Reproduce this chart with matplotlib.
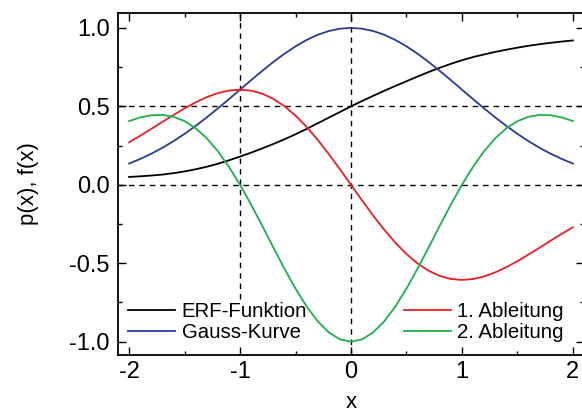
import matplotlib
matplotlib.use("Agg")
import matplotlib.pyplot as plt
from matplotlib.ticker import MultipleLocator

plt.rcParams['font.family'] = ['Liberation Sans', 'DejaVu Sans']

x = [-2.0, -1.9, -1.8, -1.7, -1.6, -1.5, -1.4, -1.3, -1.2, -1.1, -1.0,
     -0.9, -0.8, -0.7, -0.6, -0.5, -0.4, -0.3, -0.2, -0.1, 0.0,
     0.1, 0.2, 0.3, 0.4, 0.5, 0.6, 0.7, 0.8, 0.9, 1.0,
     1.1, 1.2, 1.3, 1.4, 1.5, 1.6, 1.7, 1.8, 1.9, 2.0]

erf_funktion = [0.050, 0.054, 0.059, 0.065, 0.074, 0.085, 0.099, 0.115, 0.134, 0.156, 0.180,
                0.205, 0.232, 0.260, 0.290, 0.322, 0.356, 0.392, 0.428, 0.464, 0.500,
                0.534, 0.567, 0.599, 0.630, 0.660, 0.690, 0.719, 0.746, 0.771, 0.794,
                0.814, 0.831, 0.847, 0.861, 0.874, 0.886, 0.896, 0.905, 0.913, 0.920]

gauss_kurve = [0.1353, 0.1645, 0.1979, 0.2357, 0.2780, 0.3247, 0.3753, 0.4296, 0.4868, 0.5461, 0.6065,
               0.6670, 0.7261, 0.7827, 0.8353, 0.8825, 0.9231, 0.9560, 0.9802, 0.9950, 1.0000,
               0.9950, 0.9802, 0.9560, 0.9231, 0.8825, 0.8353, 0.7827, 0.7261, 0.6670, 0.6065,
               0.5461, 0.4868, 0.4296, 0.3753, 0.3247, 0.2780, 0.2357, 0.1979, 0.1645, 0.1353]

ableitung1 = [0.2707, 0.3126, 0.3562, 0.4007, 0.4448, 0.4870, 0.5254, 0.5585, 0.5842, 0.6007, 0.6065,
              0.6003, 0.5809, 0.5479, 0.5012, 0.4412, 0.3692, 0.2868, 0.1960, 0.0995, 0.0,
              -0.0995, -0.1960, -0.2868, -0.3692, -0.4412, -0.5012, -0.5479, -0.5809, -0.6003, -0.6065,
              -0.6007, -0.5842, -0.5585, -0.5254, -0.4870, -0.4448, -0.4007, -0.3562, -0.3126, -0.2707]

ableitung2 = [0.4060, 0.4293, 0.4433, 0.4455, 0.4337, 0.4059, 0.3603, 0.2964, 0.2142, 0.1147, 0.0,
              -0.1267, -0.2614, -0.3992, -0.5346, -0.6619, -0.7754, -0.8700, -0.9410, -0.9851, -1.0,
              -0.9851, -0.9410, -0.8700, -0.7754, -0.6619, -0.5346, -0.3992, -0.2614, -0.1267, 0.0,
              0.1147, 0.2142, 0.2964, 0.3603, 0.4059, 0.4337, 0.4455, 0.4433, 0.4293, 0.4060]

labels = ["ERF-Funktion", "Gauss-Kurve", "1. Ableitung", "2. Ableitung"]
colors = ["#000000", "#2B3A98", "#EE1D25", "#1EB14B"]

xlim = (-2.1, 2.1)
ylim = (-1.085, 1.095)

fig = plt.figure(figsize=(5.82, 4.15), dpi=100)
ax = fig.add_axes([118/582, 1 - 355/415, (584 - 118)/582, (355 - 13)/415])
ax.set_xlim(*xlim)
ax.set_ylim(*ylim)

dash = (0, (4, 3.5))
ax.axhline(0.5, color='black', lw=1.0, linestyle=dash, zorder=1)
ax.axhline(0.0, color='black', lw=1.0, linestyle=dash, zorder=1)
ax.axvline(0.0, color='black', lw=1.0, linestyle=dash, zorder=1)
ax.axvline(-1.0, ymin=(-0.73 - ylim[0]) / (ylim[1] - ylim[0]), color='black', lw=1.0, linestyle=dash, zorder=1)

series = [erf_funktion, gauss_kurve, ableitung1, ableitung2]
lines = []
for s, lab, c in zip(series, labels, colors):
    ln, = ax.plot(x, s, color=c, lw=1.3, label=lab, zorder=3)
    lines.append(ln)

ax.xaxis.set_major_locator(MultipleLocator(1))
ax.xaxis.set_minor_locator(MultipleLocator(0.5))
ax.yaxis.set_major_locator(MultipleLocator(0.5))
ax.yaxis.set_minor_locator(MultipleLocator(0.25))
ax.xaxis.set_major_formatter(plt.FuncFormatter(lambda v, p: "0" if abs(v) < 1e-9 else f"{v:.0f}"))
ax.yaxis.set_major_formatter(plt.FuncFormatter(lambda v, p: "0.0" if abs(v) < 1e-9 else f"{v:.1f}"))

ax.tick_params(which='both', direction='in', top=True, right=True, width=1.0, labelsize=17, colors='black')
ax.tick_params(which='major', length=6)
ax.tick_params(which='minor', length=3)
ax.tick_params(axis='x', pad=4)
ax.tick_params(axis='y', pad=6)
for sp in ax.spines.values():
    sp.set_linewidth(1.3)

ax.set_xlabel("x", fontsize=16, labelpad=7)
ax.set_ylabel("p(x), f(x)", fontsize=16, labelpad=22)

leg1 = ax.legend(handles=lines[:2], loc='lower left', bbox_to_anchor=(-0.006, 0.0),
                 frameon=False, fontsize=14.7, handlelength=2.3, handletextpad=0.3,
                 labelspacing=0.1, borderaxespad=0.3, borderpad=0.35)
ax.add_artist(leg1)
leg2 = ax.legend(handles=lines[2:], loc='lower left', bbox_to_anchor=(0.585, 0.0),
                 frameon=False, fontsize=14.7, handlelength=2.3, handletextpad=0.3,
                 labelspacing=0.1, borderaxespad=0.3, borderpad=0.35)

fig.savefig("out.png", dpi=100)
